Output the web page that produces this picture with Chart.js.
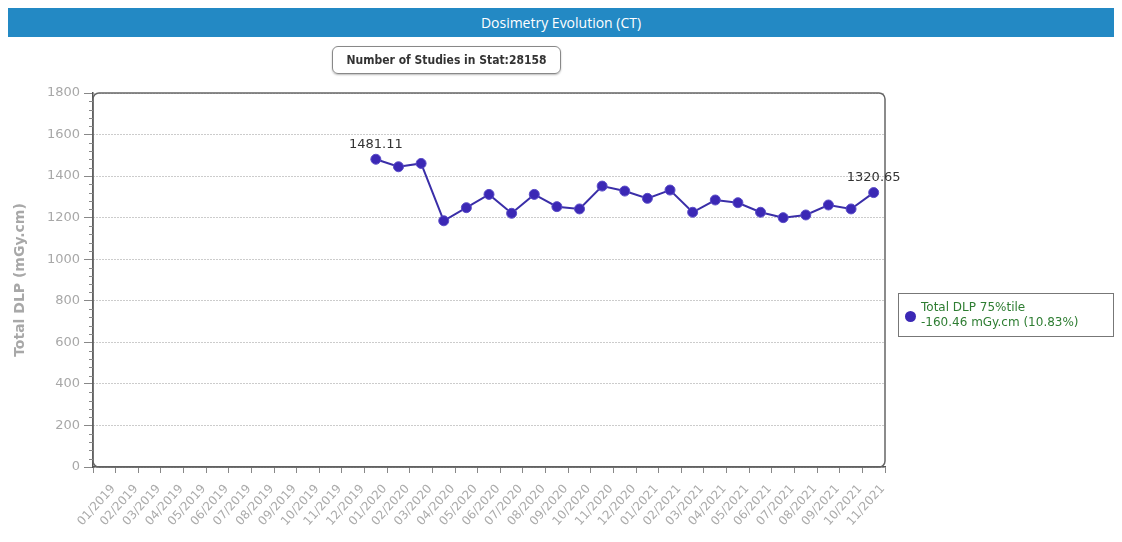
<!DOCTYPE html>
<html>
<head>
<meta charset="utf-8">
<title>Dosimetry Evolution (CT)</title>
<script src="https://cdn.jsdelivr.net/npm/chart.js@4"></script>
<style>
  html, body { margin: 0; padding: 0; background: #fff; }
  body { width: 1122px; height: 542px; position: relative; overflow: hidden; font-family: "DejaVu Sans", Verdana, sans-serif; }
  #title-bar {
    position: absolute; left: 8px; top: 8px; width: 1106px; height: 29px;
    background: #2389c4; color: #fff; text-align: center;
    font: 14px "Open Sans", sans-serif; line-height: 29px;
  }
  #stats-box {
    position: absolute; left: 332px; top: 46px; width: 227px; height: 26px;
    border: 1px solid #888; border-radius: 6px; box-shadow: 0 1px 2px #bbb;
    text-align: center;
    font: bold 12px "Liberation Sans Narrow", "DejaVu Sans Condensed", sans-serif; line-height: 26px; color: #333;
  }
  #chart-wrap { position: absolute; left: 0; top: 0; width: 1122px; height: 542px; }
  #legend {
    position: absolute; left: 898px; top: 293px; width: 216px; height: 44px;
    border: 1px solid #777; box-sizing: border-box;
    font: 12px "DejaVu Sans", Verdana, sans-serif; line-height: 15px; color: #2e7d32;
    padding: 6px 0 0 22px;
  }
  #legend .dot {
    position: absolute; left: 6px; top: 17px; width: 11px; height: 11px; border-radius: 50%; background: #3b28b5;
  }
</style>
</head>
<body>
<div id="chart-wrap"><canvas id="doseChart" width="1122" height="542"></canvas></div>
<div id="title-bar">Dosimetry Evolution (CT)</div>
<div id="stats-box">Number of Studies in Stat:28158</div>
<div id="legend"><span class="dot"></span>Total DLP 75%tile<br>-160.46 mGy.cm (10.83%)</div>

<script>
// month labels on the x axis
const months = [
  '01/2019', '02/2019', '03/2019', '04/2019', '05/2019', '06/2019', '07/2019', '08/2019', '09/2019', '10/2019', '11/2019', '12/2019',
  '01/2020', '02/2020', '03/2020', '04/2020', '05/2020', '06/2020', '07/2020', '08/2020', '09/2020', '10/2020', '11/2020', '12/2020',
  '01/2021', '02/2021', '03/2021', '04/2021', '05/2021', '06/2021', '07/2021', '08/2021', '09/2021', '10/2021', '11/2021'
];

// Total DLP 75th percentile (mGy.cm), no data before 01/2020
const dlpValues = [
  null, null, null, null, null, null, null, null, null, null, null, null,
  1481.11, 1445, 1461, 1185, 1248, 1312, 1221, 1312, 1253, 1242, 1352, 1328,
  1293, 1333, 1226, 1285, 1272, 1226, 1200, 1213, 1261, 1242, 1320.65
];

// values printed above the first and last points
const labelledIdx = [12, 34];

const yTicks = [0, 200, 400, 600, 800, 1000, 1200, 1400, 1600, 1800];

// rounded frame around the plot + minor ticks on y + point value labels
const framePlugin = {
  id: 'frame',
  afterDraw(chart) {
    const { ctx, chartArea: a, scales } = chart;
    ctx.save();
    ctx.strokeStyle = '#666';
    ctx.lineWidth = 1.5;
    ctx.beginPath();
    ctx.roundRect(a.left, a.top, a.right - a.left, a.bottom - a.top, 6);
    ctx.stroke();

    // minor ticks every 40
    ctx.strokeStyle = '#888';
    ctx.lineWidth = 1;
    for (let v = 0; v <= 1800; v += 40) {
      if (v % 200 === 0) continue;
      const y = Math.round(scales.y.getPixelForValue(v)) + 0.5;
      ctx.beginPath();
      ctx.moveTo(a.left - 4, y);
      ctx.lineTo(a.left, y);
      ctx.stroke();
    }

    // data labels
    const meta = chart.getDatasetMeta(0);
    ctx.fillStyle = '#333';
    ctx.font = '13px "DejaVu Sans", Verdana, sans-serif';
    ctx.textAlign = 'center';
    ctx.textBaseline = 'bottom';
    labelledIdx.forEach(i => {
      const pt = meta.data[i];
      ctx.fillText(dlpValues[i].toFixed(2), pt.x, pt.y - 8);
    });
    ctx.restore();
  }
};

document.addEventListener('DOMContentLoaded', () => {
  const ctx = document.getElementById('doseChart').getContext('2d');

  new Chart(ctx, {
    type: 'line',
    data: {
      labels: months,
      datasets: [{
        label: 'Total DLP 75%tile',
        data: dlpValues,
        borderColor: '#3a2ea8',
        backgroundColor: '#3b28b5',
        pointBackgroundColor: '#3b28b5',
        pointBorderColor: '#5a4cc8',
        pointBorderWidth: 1,
        pointRadius: 5,
        borderWidth: 2,
        tension: 0,
        spanGaps: false
      }]
    },
    options: {
      responsive: false,
      animation: false,
      layout: { padding: { top: 93, right: 237, left: 0, bottom: 0 } },
      plugins: {
        legend: { display: false },
        tooltip: { enabled: false }
      },
      scales: {
        x: {
          offset: true,
          grid: {
            offset: true,
            drawOnChartArea: false,
            color: '#888',
            tickLength: 6
          },
          border: { color: '#555', width: 1.5 },
          ticks: {
            autoSkip: false,
            maxRotation: 48,
            minRotation: 48,
            color: '#ababab',
            padding: 9,
            labelOffset: 9,
            font: { family: '"DejaVu Sans", Verdana, sans-serif', size: 12 }
          },
          afterFit(scale) { scale.height = 75; }
        },
        y: {
          min: 0,
          max: 1800,
          afterBuildTicks(scale) { scale.ticks = yTicks.map(v => ({ value: v })); },
          grid: {
            color: '#999',
            tickBorderDash: [],
            tickColor: '#888',
            tickLength: 9
          },
          border: { color: '#555', width: 1.5, dash: [1, 2] },
          ticks: {
            color: '#a8a8a8',
            padding: 4,
            font: { family: '"DejaVu Sans", Verdana, sans-serif', size: 13 },
            callback: v => String(v)
          },
          title: {
            display: true,
            text: 'Total DLP (mGy.cm)',
            color: '#a8a8a8',
            padding: { top: 12, bottom: 0 },
            font: { family: '"DejaVu Sans", Verdana, sans-serif', size: 14, weight: 'bold' }
          },
          afterFit(scale) { scale.width = 93; }
        }
      }
    },
    plugins: [framePlugin]
  });
});
</script>
</body>
</html>
